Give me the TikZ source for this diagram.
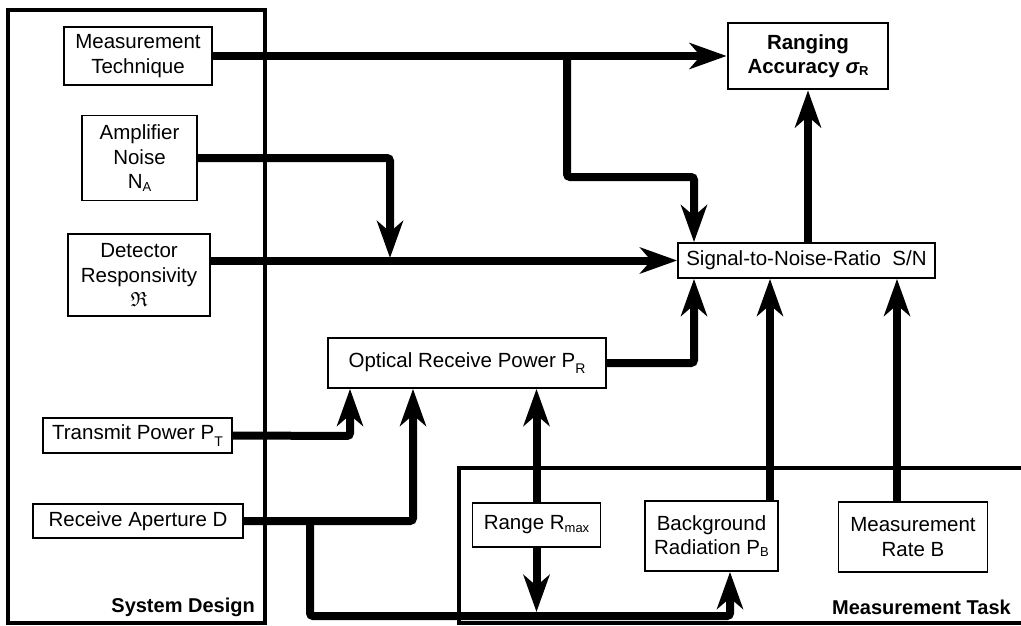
\documentclass[tikz,border=0pt]{standalone}
\usepackage{fontspec}
\setmainfont{Liberation Sans}
\usepackage{amssymb}
\usetikzlibrary{arrows.meta}
\newcommand{\mysub}[1]{\raisebox{-0.2ex}{\fontsize{13}{13}\selectfont #1}}
\newcommand{\mysubl}[1]{\raisebox{-0.6ex}{\fontsize{14}{14}\selectfont #1}}
\begin{document}
\begin{tikzpicture}[x=1pt,y=-1pt,
  box/.style={draw,line width=1.8pt,inner sep=0pt,align=center,font=\fontsize{20.5}{24.5}\selectfont},
  panel/.style={line width=3.5pt},
  conn/.style={line width=8pt,rounded corners=3pt},
  arr/.style={conn,-{Stealth[length=37pt,width=26pt,inset=11pt]}},
  lbl/.style={font=\fontsize{20}{24}\bfseries\selectfont,inner sep=0pt}
]
\useasboundingbox (0,0) rectangle (1021,626);
% panels
\draw[panel] (8,10) rectangle (265,623);
\draw[panel] (1030,468) -- (459,468) -- (459,623) -- (1030,623);
% boxes
\node[box,minimum width=148pt,minimum height=58pt] (tech) at (138,56) {Measurement\\Technique};
\node[box,minimum width=115pt,minimum height=85pt] (amp) at (139.5,158) {Amplifier\\Noise\\N\mysub{A}};
\node[box,minimum width=142pt,minimum height=82pt] (det) at (139,275) {Detector\\Responsivity\\$\mathfrak{R}$};
\node[box,line width=2.8pt,font=\fontsize{20.5}{24.5}\bfseries\selectfont,minimum width=160pt,minimum height=66pt] (acc) at (808,56) {Ranging\\Accuracy {\itshape σ}\mysub{R}};
\node[box,minimum width=257pt,minimum height=35pt] (sn) at (806.5,260.5) {Signal-to-Noise-Ratio\ \ S/N};
\node[box,minimum width=278pt,minimum height=50pt] (opt) at (467,363) {Optical Receive Power P\mysubl{R}};
\node[box,minimum width=189pt,minimum height=35pt] (tx) at (137.5,435.5) {Transmit Power P\mysubl{T}};
\node[box,minimum width=210pt,minimum height=34pt] (rx) at (138,521) {Receive Aperture D};
\node[box,minimum width=128pt,minimum height=44pt] (range) at (536.5,525) {Range R\mysub{max}};
\node[box,minimum width=133pt,minimum height=70pt] (bg) at (711.5,536) {Background\\Radiation P\mysub{B}};
\node[box,minimum width=149pt,minimum height=70pt] (rate) at (913,537) {Measurement\\Rate B};
% labels
\node[lbl,anchor=east] (sd) at (255,607) {System Design};
\node[lbl,anchor=east] (mt) at (1011,607) {Measurement Task};
% coordinates
\coordinate (b1) at (567,56);
\coordinate (k1) at (567,177);
\coordinate (k2) at (694,177);
\coordinate (a1) at (390,158);
\coordinate (j1) at (390,258);
\coordinate (o1) at (694,363);
\coordinate (t1) at (350,436);
\coordinate (r1) at (413,521);
\coordinate (r2) at (310,521);
\coordinate (r3) at (310,616);
\coordinate (r4) at (730,616);
\coordinate (rb) at (536.5,612);
\coordinate (g1) at (770,500);
\coordinate (q1) at (897,500);
% connectors
\draw[arr] (tech.east) -- (acc.west);
\draw[arr] (b1) -- (k1) -- (k2) -- (k2 |- sn.north);
\draw[arr] (amp.east) -- (a1) -- (j1);
\draw[arr] (det.east |- sn.west) -- (sn.west);
\draw[arr] (acc.south |- sn.north) -- (acc.south);
\draw[arr] (opt.east) -- (o1) -- (o1 |- sn.south);
\draw[arr] (tx.east) -- (t1) -- (t1 |- opt.south);
\draw[arr] (rx.east) -- (r1) -- (r1 |- opt.south);
\draw[arr] (r2) -- (r3) -- (r4) -- (r4 |- bg.south);
\draw[arr] (range.north) -- (range.north |- opt.south);
\draw[arr] (range.south) -- (rb);
\draw[arr] (g1 |- bg.north) -- (g1 |- sn.south);
\draw[arr] (q1 |- rate.north) -- (q1 |- sn.south);
\end{tikzpicture}
\end{document}
